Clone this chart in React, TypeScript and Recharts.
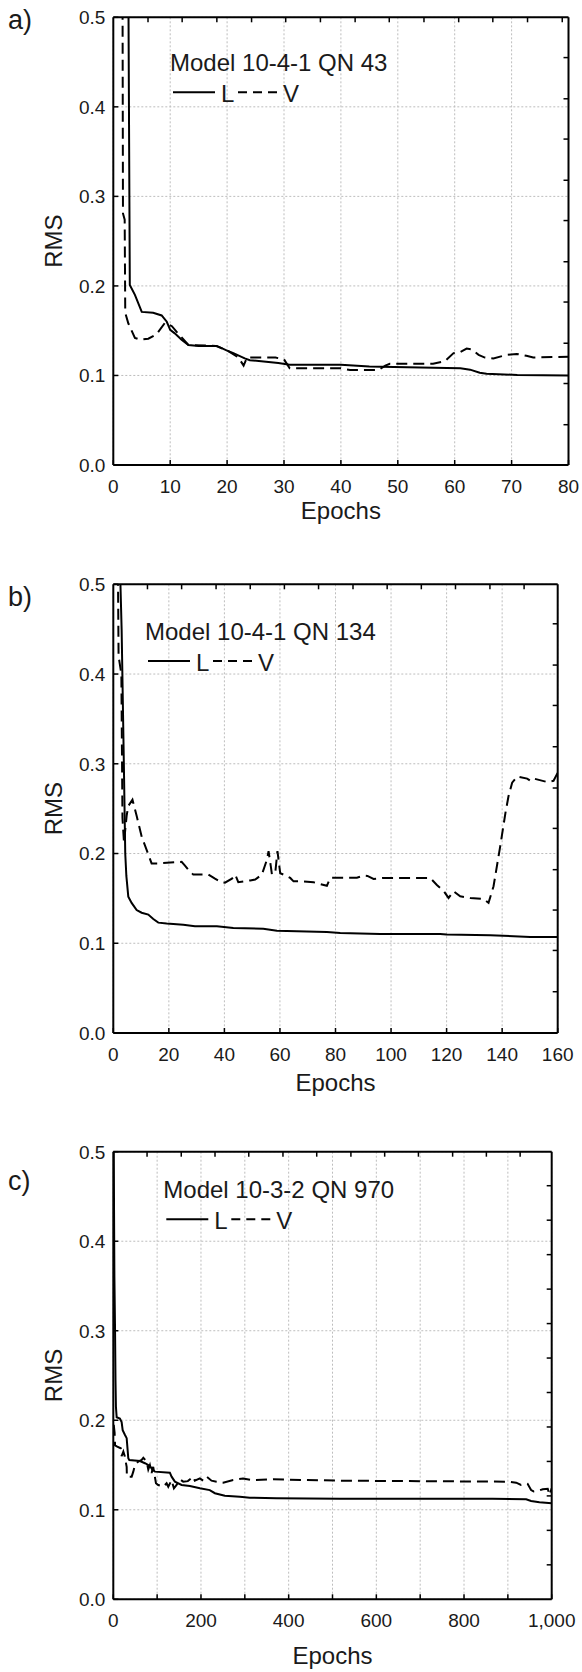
import React from 'react';
import { LineChart, Line, XAxis, YAxis, CartesianGrid, Legend } from 'recharts';

const FONT = '"Liberation Sans", Arial, Helvetica, sans-serif';
const INK = '#1a1a1a';

// a) Model 10-4-1 QN 43
const aLearnEpochs = [1, 2.6, 2.9, 3.8, 5.0, 7.0, 8.5, 9.4, 10.0, 10.8, 12.0, 13.2, 15.0, 18.2, 19.9, 21.1, 23.1, 24.0, 26.0, 29.0, 31.0, 33.0, 40.0, 45.0, 49.3, 61.0, 62.7, 64.4, 65.6, 71.0, 80.0];
const aLearnRms = [1.5, 0.6, 0.201, 0.19, 0.171, 0.17, 0.167, 0.16, 0.151, 0.147, 0.14, 0.134, 0.133, 0.133, 0.128, 0.125, 0.119, 0.117, 0.116, 0.114, 0.112, 0.112, 0.112, 0.11, 0.1095, 0.108, 0.1065, 0.103, 0.102, 0.1005, 0.1];
const aValidEpochs = [1, 1.6, 1.7, 2.0, 2.1, 2.65, 3.8, 4.7, 6.15, 7.6, 9.1, 10.3, 11.1, 13.2, 18.0, 20.0, 22.0, 22.9, 23.5, 28.5, 30.0, 31.0, 40.0, 41.6, 46.6, 47.8, 48.6, 56.2, 58.3, 59.8, 60.9, 62.1, 63.0, 64.2, 65.3, 66.8, 69.1, 70.9, 72.6, 73.8, 80.0];
const aValidRms = [1.25, 0.6, 0.281, 0.274, 0.17, 0.158, 0.142, 0.14, 0.141, 0.146, 0.159, 0.155, 0.149, 0.134, 0.133, 0.128, 0.12, 0.111, 0.12, 0.12, 0.118, 0.108, 0.108, 0.106, 0.106, 0.111, 0.113, 0.113, 0.116, 0.125, 0.126, 0.13, 0.129, 0.123, 0.12, 0.119, 0.123, 0.124, 0.122, 0.12, 0.121];
const aXTicks = [0, 10, 20, 30, 40, 50, 60, 70, 80];
const aTopTicks = [6.1, 12.1, 18.2, 24.3, 30.3, 36.4, 42.5, 48.5, 54.6, 60.7, 66.7, 72.8, 78.9];
const aRightTicks = [0.045, 0.091, 0.136, 0.182, 0.227, 0.273, 0.318, 0.364, 0.409, 0.455];

// b) Model 10-4-1 QN 134
const bLearnEpochs = [1.5, 2.4, 3.0, 3.8, 4.3, 4.7, 5.4, 6.6, 8.4, 10.2, 12.6, 14.4, 16.2, 19.2, 25.2, 29.4, 37.3, 43.2, 54.0, 58.9, 62.5, 76.9, 81.7, 96.1, 117.7, 120.0, 135.7, 150.1, 160.0];
const bLearnRms = [0.9, 0.52, 0.45, 0.3, 0.2, 0.175, 0.152, 0.145, 0.137, 0.134, 0.132, 0.127, 0.123, 0.122, 0.1207, 0.119, 0.119, 0.117, 0.1162, 0.114, 0.1136, 0.1125, 0.1114, 0.1103, 0.1103, 0.1098, 0.109, 0.107, 0.107];
const bValidEpochs = [1.2, 1.9, 2.9, 3.3, 3.85, 4.8, 5.4, 6.9, 8.4, 10.2, 12.6, 13.8, 16.2, 24.6, 25.8, 27.0, 28.8, 34.2, 36.6, 39.0, 40.2, 42.7, 43.9, 45.0, 49.3, 51.1, 53.5, 55.3, 55.9, 56.7, 57.1, 58.3, 59.1, 60.1, 61.3, 63.7, 64.9, 67.3, 72.1, 76.9, 78.1, 87.7, 90.1, 91.5, 93.7, 97.3, 114.1, 116.5, 119.0, 120.7, 122.5, 124.9, 128.5, 133.3, 135.1, 136.9, 139.3, 141.2, 142.3, 143.6, 145.4, 149.0, 150.2, 151.4, 156.2, 158.5, 160.0];
const bValidRms = [0.7, 0.42, 0.4, 0.24, 0.212, 0.242, 0.253, 0.26, 0.242, 0.219, 0.199, 0.189, 0.189, 0.1907, 0.1866, 0.182, 0.1765, 0.1765, 0.172, 0.168, 0.1675, 0.172, 0.1765, 0.168, 0.17, 0.171, 0.1765, 0.193, 0.2026, 0.186, 0.177, 0.1784, 0.2026, 0.178, 0.1765, 0.1728, 0.169, 0.169, 0.168, 0.164, 0.173, 0.173, 0.1754, 0.175, 0.1717, 0.1728, 0.1728, 0.165, 0.158, 0.1505, 0.158, 0.1523, 0.1505, 0.1494, 0.145, 0.1635, 0.208, 0.2455, 0.264, 0.279, 0.2857, 0.2835, 0.281, 0.2835, 0.2797, 0.281, 0.29];
const bXTicks = [0, 20, 40, 60, 80, 100, 120, 140, 160];
const bTopTicks = [12.3, 24.6, 37.0, 49.3, 61.6, 73.9, 86.3, 98.6, 110.9, 123.2, 135.6, 147.9];
const bRightTicks = [0.046, 0.092, 0.137, 0.182, 0.228, 0.273, 0.319, 0.365, 0.41, 0.456];

// c) Model 10-3-2 QN 970
const cLearnEpochs = [1, 2.5, 4, 5, 6, 7.7, 15, 19, 21.4, 26.7, 30.5, 34.2, 36.5, 60.8, 72.2, 83.6, 89.7, 95, 129, 133, 140.5, 155.8, 174.7, 197.5, 220, 231.7, 254.4, 288.6, 311.4, 372, 516, 865, 941.7, 953, 972, 1000];
const cLearnRms = [0.5, 0.36, 0.3, 0.245, 0.215, 0.2033, 0.202, 0.198, 0.189, 0.1836, 0.18, 0.1575, 0.1556, 0.1545, 0.152, 0.149, 0.1445, 0.1426, 0.1415, 0.137, 0.1314, 0.1277, 0.1266, 0.124, 0.122, 0.1185, 0.1158, 0.1146, 0.1135, 0.1128, 0.1124, 0.1124, 0.1117, 0.1098, 0.1084, 0.1073];
const cValidEpochs = [1, 3, 4, 9, 17, 19, 22.9, 26, 30.5, 31, 41.9, 45.6, 49.4, 57, 64.7, 68.5, 76, 79.8, 83.5, 87.4, 91, 97.3, 102.5, 113.9, 121.6, 125.4, 133, 138.3, 144.4, 152, 159.5, 170, 182, 186, 197.5, 205, 212.8, 224, 235.5, 250.6, 273.4, 296, 319, 364.5, 516, 903, 919, 930, 945, 953, 959, 968, 979.5, 991, 995, 1000];
const cValidRms = [0.195, 0.186, 0.172, 0.1705, 0.1687, 0.16, 0.165, 0.16, 0.148, 0.137, 0.137, 0.1426, 0.15, 0.1538, 0.1557, 0.158, 0.154, 0.145, 0.15, 0.141, 0.148, 0.1296, 0.1277, 0.1258, 0.1296, 0.1258, 0.133, 0.124, 0.1277, 0.134, 0.1314, 0.132, 0.137, 0.1325, 0.135, 0.1325, 0.137, 0.1325, 0.1314, 0.1303, 0.1333, 0.135, 0.133, 0.134, 0.1325, 0.1314, 0.1303, 0.1277, 0.129, 0.122, 0.1205, 0.121, 0.123, 0.1235, 0.1165, 0.124];
const cXTicks = [0, 100, 200, 300, 400, 500, 600, 700, 800, 900, 1000];
const cTopTicks = [77, 155, 232, 309, 387, 464, 542, 619, 696, 774, 851, 928];
const cRightTicks = [0.0385, 0.077, 0.1155, 0.154, 0.1925, 0.231, 0.2695, 0.308, 0.3465, 0.385, 0.4235, 0.462];

const yTicks = [0, 0.1, 0.2, 0.3, 0.4, 0.5];

const zip = (epochs: number[], rms: number[]) => epochs.map((epoch, i) => ({ epoch, rms: rms[i] }));

type Panel = {
  tag: string;
  title: string;
  learn: { epoch: number; rms: number }[];
  valid: { epoch: number; rms: number }[];
  xMax: number;
  xTicks: number[];
  labelEvery: number;
  topTicks: number[];
  rightTicks: number[];
  top: number;
  height: number;
  plotTop: number;
  plotBottom: number;
  plotRight: number;
  tagY: number;
  titleX: number;
  titleY: number;
  epochsY: number;
};

const PLOT_LEFT = 113.3;
// space given to each axis band (axis lines sit on the plot edges)
const LEFT_W = 60;
const RIGHT_W = 6;
const TOP_H = 6;
const BOTTOM_H = 30;

const panels: Panel[] = [
  {
    tag: 'a)', title: 'Model 10-4-1 QN 43',
    learn: zip(aLearnEpochs, aLearnRms), valid: zip(aValidEpochs, aValidRms),
    xMax: 80, xTicks: aXTicks, labelEvery: 10, topTicks: aTopTicks, rightTicks: aRightTicks,
    top: 0, height: 540, plotTop: 17.3, plotBottom: 465, plotRight: 568.5,
    tagY: 29, titleX: 170, titleY: 70.7, epochsY: 519,
  },
  {
    tag: 'b)', title: 'Model 10-4-1 QN 134',
    learn: zip(bLearnEpochs, bLearnRms), valid: zip(bValidEpochs, bValidRms),
    xMax: 160, xTicks: bXTicks, labelEvery: 20, topTicks: bTopTicks, rightTicks: bRightTicks,
    top: 540, height: 560, plotTop: 44.3, plotBottom: 493, plotRight: 557.7,
    tagY: 65.5, titleX: 145, titleY: 99.5, epochsY: 551,
  },
  {
    tag: 'c)', title: 'Model 10-3-2 QN 970',
    learn: zip(cLearnEpochs, cLearnRms), valid: zip(cValidEpochs, cValidRms),
    xMax: 1000, xTicks: cXTicks, labelEvery: 200, topTicks: cTopTicks, rightTicks: cRightTicks,
    top: 1100, height: 572, plotTop: 51.7, plotBottom: 499.3, plotRight: 551.7,
    tagY: 89.5, titleX: 163.3, titleY: 97.7, epochsY: 564,
  },
];

const txt = { fontFamily: FONT, fill: INK };

function PanelChart({ p }: { p: Panel }) {
  const cx = (PLOT_LEFT + p.plotRight) / 2;
  const cy = (p.plotTop + p.plotBottom) / 2;

  const bottomTick = (props: any) => {
    const { x, y, payload } = props;
    const v = payload.value as number;
    return (
      <g>
        <line x1={x} x2={x} y1={y} y2={y - 5} stroke="#000" strokeWidth={1.5} />
        {v % p.labelEvery === 0 && (
          <text x={x} y={y + 28} textAnchor="middle" fontSize={19} {...txt}>
            {v.toLocaleString('en-US')}
          </text>
        )}
      </g>
    );
  };
  const leftTick = (props: any) => {
    const { x, y, payload } = props;
    return (
      <g>
        <line x1={x} x2={x + 5} y1={y} y2={y} stroke="#000" strokeWidth={1.5} />
        <text x={x - 8} y={y + 6.8} textAnchor="end" fontSize={19} {...txt}>
          {Number(payload.value).toFixed(1)}
        </text>
      </g>
    );
  };
  const topTick = (props: any) => (
    <line x1={props.x} x2={props.x} y1={props.y} y2={props.y + 5} stroke="#000" strokeWidth={1.5} />
  );
  const rightTick = (props: any) => (
    <line x1={props.x} x2={props.x - 5} y1={props.y} y2={props.y} stroke="#000" strokeWidth={1.5} />
  );

  const legend = (props: any) => {
    const items: any[] = props.payload ?? [];
    const ly = p.titleY + 31;
    return (
      <svg width={582} height={p.height} style={{ display: 'block', overflow: 'visible' }}>
        <text x={8} y={p.tagY} fontSize={27} {...txt}>{p.tag}</text>
        <text x={p.titleX} y={p.titleY} fontSize={24} {...txt}>{p.title}</text>
        {items.map((it, i) => {
          const dashed = it.payload?.strokeDasharray ? true : i === 1;
          const x0 = p.titleX + 3 + i * 65;
          const len = dashed ? 39 : 42;
          return (
            <g key={i}>
              <line x1={x0} x2={x0 + len} y1={ly - 9.5} y2={ly - 9.5} stroke="#000" strokeWidth={2}
                strokeDasharray={dashed ? '9 6' : undefined} />
              <text x={x0 + len + 6} y={ly} fontSize={24} {...txt}>{it.value}</text>
            </g>
          );
        })}
      </svg>
    );
  };

  return (
    <div style={{ position: 'absolute', left: 0, top: p.top }}>
      <LineChart
        width={582}
        height={p.height}
        margin={{
          top: p.plotTop - TOP_H,
          right: 582 - p.plotRight - RIGHT_W,
          left: PLOT_LEFT - LEFT_W,
          bottom: p.height - p.plotBottom - BOTTOM_H,
        }}
      >
        <CartesianGrid stroke="#bdbdbd" strokeDasharray="2 2" strokeWidth={1} />
        <XAxis
          dataKey="epoch" type="number" domain={[0, p.xMax]} ticks={p.xTicks} interval={0}
          allowDataOverflow height={BOTTOM_H} tickSize={0} tickMargin={0} tick={bottomTick} tickLine={false}
          axisLine={{ stroke: '#000', strokeWidth: 2 }}
          label={() => (
            <text x={cx} y={p.epochsY} textAnchor="middle" fontSize={24} {...txt}>Epochs</text>
          )}
        />
        <XAxis
          xAxisId="top" orientation="top" dataKey="epoch" type="number" domain={[0, p.xMax]}
          ticks={p.topTicks} interval={0} allowDataOverflow height={TOP_H} tickSize={0} tickMargin={0}
          tick={topTick} tickLine={false} axisLine={{ stroke: '#000', strokeWidth: 2 }}
        />
        <YAxis
          type="number" domain={[0, 0.5]} ticks={yTicks} interval={0} allowDataOverflow width={LEFT_W}
          tickSize={0} tickMargin={0} tick={leftTick} tickLine={false}
          axisLine={{ stroke: '#000', strokeWidth: 2 }}
          label={() => (
            <text transform={`translate(62 ${cy}) rotate(-90)`} textAnchor="middle" fontSize={24} {...txt}>RMS</text>
          )}
        />
        <YAxis
          yAxisId="right" orientation="right" type="number" domain={[0, 0.5]} ticks={p.rightTicks}
          interval={0} allowDataOverflow width={RIGHT_W} tickSize={0} tickMargin={0} tick={rightTick}
          tickLine={false} axisLine={{ stroke: '#000', strokeWidth: 2 }}
        />
        <Legend
          layout="vertical" align="center" verticalAlign="middle" content={legend}
          wrapperStyle={{ left: 0, top: 0, width: 582, height: p.height, pointerEvents: 'none' }}
        />
        <Line data={p.learn} dataKey="rms" name="L" type="linear" stroke="#000" strokeWidth={2}
          dot={false} activeDot={false} isAnimationActive={false} />
        <Line data={p.valid} dataKey="rms" name="V" type="linear" stroke="#000" strokeWidth={2}
          strokeDasharray="11 6" dot={false} activeDot={false} isAnimationActive={false} />
      </LineChart>
    </div>
  );
}

export default function App() {
  return (
    <div style={{ position: 'absolute', left: 0, top: 0, width: 582, height: 1672, background: '#fff' }}>
      {panels.map((p) => (
        <PanelChart key={p.tag} p={p} />
      ))}
    </div>
  );
}
